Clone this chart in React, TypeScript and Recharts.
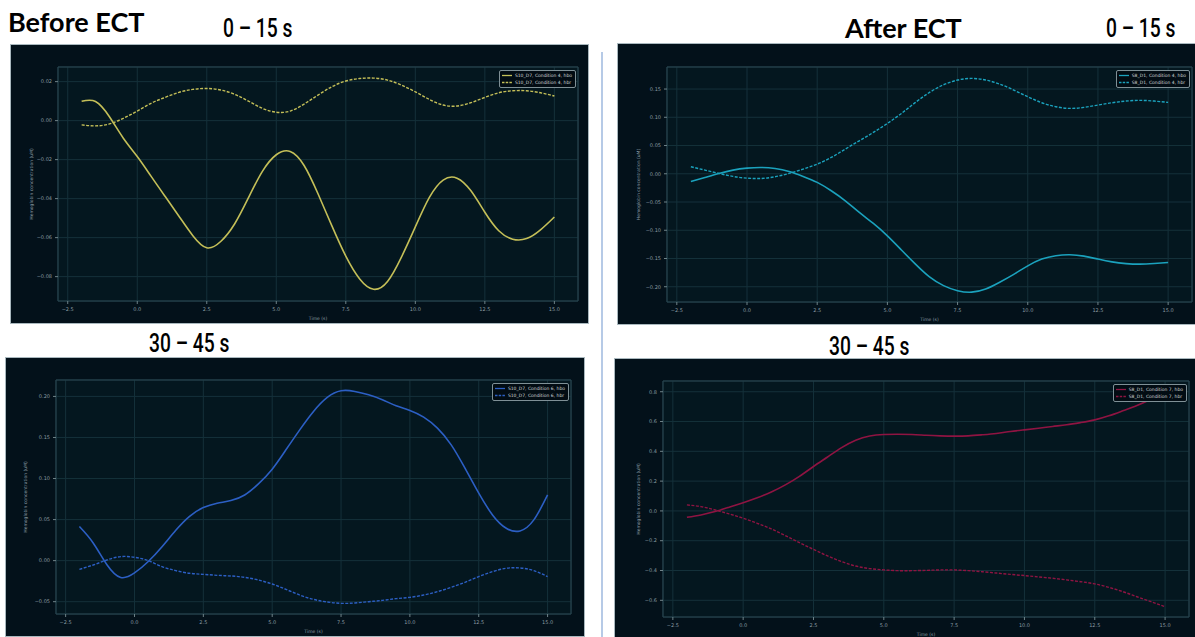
import React from "react";
import { LineChart, Line, XAxis, YAxis, CartesianGrid, ReferenceArea } from "recharts";

// time axis (s), sampled every 0.5 s
const times = [
  -2, -1.5, -1, -0.5, 0, 0.5, 1, 1.5, 2, 2.5, 3, 3.5, 4, 4.5, 5, 5.5, 6, 6.5,
  7, 7.5, 8, 8.5, 9, 9.5, 10, 10.5, 11, 11.5, 12, 12.5, 13, 13.5, 14, 14.5, 15,
];
const xTicks = [-2.5, 0, 2.5, 5, 7.5, 10, 12.5, 15];

// Before ECT, 0-15 s (S10_D7, condition 4)
const beforeEarlyHbo = [
  0.0099, 0.0098, 0.002, -0.009, -0.0184, -0.0286, -0.0388, -0.049, -0.059,
  -0.0652, -0.062, -0.053, -0.0395, -0.026, -0.0175, -0.0158, -0.023, -0.0375,
  -0.054, -0.0695, -0.0812, -0.0865, -0.0825, -0.07, -0.0545, -0.0395, -0.0305,
  -0.0295, -0.036, -0.047, -0.0565, -0.0608, -0.0605, -0.056, -0.0494,
];
const beforeEarlyHbr = [
  -0.0022, -0.0027, -0.0017, 0.0012, 0.0049, 0.0089, 0.0119, 0.0145, 0.016,
  0.0165, 0.0157, 0.0135, 0.01, 0.0063, 0.0043, 0.0049, 0.0085, 0.0131, 0.0174,
  0.0203, 0.0216, 0.0218, 0.0208, 0.0182, 0.0148, 0.0109, 0.008, 0.0075, 0.0092,
  0.0119, 0.0143, 0.0153, 0.0153, 0.0143, 0.0126,
];

// After ECT, 0-15 s (S8_D1, condition 4)
const afterEarlyHbo = [
  -0.0136, -0.0065, 0.0006, 0.0065, 0.01, 0.0112, 0.0094, 0.0041, -0.0047,
  -0.0153, -0.03, -0.0478, -0.0685, -0.088, -0.11, -0.135, -0.16, -0.1826,
  -0.198, -0.207, -0.2096, -0.204, -0.192, -0.178, -0.163, -0.151, -0.145,
  -0.1434, -0.1458, -0.151, -0.156, -0.159, -0.16, -0.1588, -0.157,
];
const afterEarlyHbr = [
  0.0124, 0.0065, 0.0006, -0.0047, -0.0077, -0.0083, -0.0053, 0.0006, 0.0083,
  0.0171, 0.0289, 0.0437, 0.0584, 0.0732, 0.0891, 0.1068, 0.1263, 0.144,
  0.1576, 0.1659, 0.1688, 0.1659, 0.1588, 0.1482, 0.1364, 0.1257, 0.1187,
  0.1157, 0.1175, 0.1216, 0.1257, 0.1287, 0.1299, 0.1287, 0.1263,
];

// Before ECT, 30-45 s (S10_D7, condition 6)
const beforeLateHbo = [
  0.0415, 0.0215, -0.005, -0.0205, -0.015, -0.001, 0.017, 0.037, 0.054, 0.0646,
  0.0699, 0.0732, 0.08, 0.0935, 0.1114, 0.135, 0.1593, 0.1817, 0.1988, 0.2069,
  0.2061, 0.202, 0.196, 0.1886, 0.183, 0.1748, 0.1614, 0.141, 0.1126, 0.0821,
  0.0557, 0.0394, 0.0362, 0.0496, 0.08,
];
const beforeLateHbr = [
  -0.0106, -0.0053, 0.0008, 0.0049, 0.0041, 0.0, -0.0073, -0.0122, -0.0154,
  -0.0167, -0.0179, -0.0187, -0.0203, -0.0236, -0.0285, -0.035, -0.0419,
  -0.0472, -0.0504, -0.052, -0.0516, -0.05, -0.0484, -0.0463, -0.0447, -0.0419,
  -0.0378, -0.0325, -0.0264, -0.0195, -0.0134, -0.0093, -0.0089, -0.0122,
  -0.0195,
];

// After ECT, 30-45 s (S8_D1, condition 7)
const afterLateHbo = [
  -0.0426, -0.027, -0.0045, 0.0246, 0.055, 0.088, 0.127, 0.175, 0.232, 0.298,
  0.362, 0.425, 0.475, 0.503, 0.513, 0.515, 0.513, 0.508, 0.504, 0.502, 0.504,
  0.511, 0.52, 0.533, 0.544, 0.555, 0.567, 0.578, 0.593, 0.611, 0.638, 0.672,
  0.708, 0.75, 0.795,
];
const afterLateHbr = [
  0.0403, 0.029, 0.0067, -0.02, -0.049, -0.083, -0.121, -0.166, -0.213, -0.258,
  -0.302, -0.34, -0.37, -0.387, -0.396, -0.401, -0.401, -0.399, -0.396, -0.396,
  -0.401, -0.408, -0.417, -0.426, -0.434, -0.443, -0.452, -0.463, -0.475, -0.49,
  -0.513, -0.542, -0.576, -0.609, -0.643,
];

const yTicksBeforeEarly = [-0.08, -0.06, -0.04, -0.02, 0, 0.02];
const yTicksAfterEarly = [-0.2, -0.15, -0.1, -0.05, 0, 0.05, 0.1, 0.15];
const yTicksBeforeLate = [-0.05, 0, 0.05, 0.1, 0.15, 0.2];
const yTicksAfterLate = [-0.6, -0.4, -0.2, 0, 0.2, 0.4, 0.6, 0.8];

const X_DOMAIN: [number, number] = [-2.85, 15.85];
const TICK_COLOR = "#8a9ba2";
const GRID_COLOR = "#1b3942";
const MONO = "'DejaVu Sans', sans-serif";

const minus = (s: string) => s.replace("-", "\u2212");
const fmt = (digits: number) => (v: number) => minus(v.toFixed(digits));

function rows(hbo: number[], hbr: number[]) {
  return times.map((t, i) => ({ t, hbo: hbo[i], hbr: hbr[i] }));
}

const YLabel = (props: any) => {
  const { viewBox, dx } = props;
  const cx = viewBox.x + dx;
  const cy = viewBox.y + viewBox.height / 2;
  return (
    <text
      x={cx}
      y={cy}
      transform={`rotate(-90 ${cx} ${cy})`}
      textAnchor="middle"
      dominantBaseline="central"
      fontSize={4.5}
      fontFamily={MONO}
      fill={TICK_COLOR}
    >
      Hemoglobin concentration (uM)
    </text>
  );
};

function MiniLegend({ names, color, top, right }: any) {
  return (
    <div
      style={{
        position: "absolute",
        top,
        right,
        border: "1px solid #7f9096",
        borderRadius: 2,
        background: "#020c13",
        padding: "1px 3px 1px 2px",
        fontFamily: MONO,
        fontSize: 4.5,
        lineHeight: "7px",
        color: "#d5dadc",
        whiteSpace: "nowrap",
      }}
    >
      {names.map((n: string, i: number) => (
        <div key={n} style={{ display: "flex", alignItems: "center" }}>
          <svg width={10} height={5} style={{ display: "block" }}>
            <line
              x1={0}
              x2={10}
              y1={2.5}
              y2={2.5}
              stroke={color}
              strokeWidth={1.3}
              strokeDasharray={i === 1 ? "2.5 1.2" : undefined}
            />
          </svg>
          <span style={{ marginLeft: 3 }}>{n}</span>
        </div>
      ))}
    </div>
  );
}

type PanelProps = {
  box: { left: number; top: number; width: number; height: number };
  frame: { top: number; right: number; left: number; bottom: number };
  yDomain: [number, number];
  yTicks: number[];
  yDigits: number;
  color: string;
  hbo: number[];
  hbr: number[];
  names: string[];
  labelDx: number;
};

function Panel({ box, frame, yDomain, yTicks, yDigits, color, hbo, hbr, names, labelDx }: PanelProps) {
  const data = rows(hbo, hbr);
  return (
    <div
      style={{
        position: "absolute",
        left: box.left,
        top: box.top,
        width: box.width,
        height: box.height,
        background: "#03111a",
        outline: "1px solid #a9b8be",
      }}
    >
      <LineChart
        width={box.width}
        height={box.height}
        data={data}
        margin={{ top: frame.top, right: frame.right, bottom: 0, left: 0 }}
      >
        <CartesianGrid stroke={GRID_COLOR} strokeWidth={1} />
        <ReferenceArea
          x1={X_DOMAIN[0]}
          x2={X_DOMAIN[1]}
          y1={yDomain[0]}
          y2={yDomain[1]}
          fill="#0a222c"
          fillOpacity={0.35}
          stroke="#28454f"
          strokeOpacity={1}
          strokeWidth={1}
        />
        <XAxis
          dataKey="t"
          type="number"
          domain={X_DOMAIN}
          ticks={xTicks}
          allowDataOverflow
          height={frame.bottom}
          tickFormatter={fmt(1)}
          tick={{ fontSize: 5, fill: TICK_COLOR, fontFamily: MONO }}
          tickLine={{ stroke: "#6f8389" }}
          tickSize={3}
          tickMargin={3}
          axisLine={false}
          label={{
            value: "Time (s)",
            position: "insideBottom",
            offset: 3,
            fontSize: 4.5,
            fill: TICK_COLOR,
            fontFamily: MONO,
          }}
        />
        <YAxis
          type="number"
          domain={yDomain}
          ticks={yTicks}
          allowDataOverflow
          width={frame.left}
          tickFormatter={fmt(yDigits)}
          tick={{ fontSize: 5, fill: TICK_COLOR, fontFamily: MONO }}
          tickLine={{ stroke: "#6f8389" }}
          tickSize={3}
          tickMargin={3}
          axisLine={false}
          label={<YLabel dx={labelDx} />}
        />
        <Line
          type="natural"
          dataKey="hbo"
          stroke={color}
          strokeWidth={1.6}
          dot={false}
          isAnimationActive={false}
        />
        <Line
          type="natural"
          dataKey="hbr"
          stroke={color}
          strokeWidth={1.4}
          strokeDasharray="3 1.5"
          dot={false}
          isAnimationActive={false}
        />
      </LineChart>
      <MiniLegend
        names={names}
        color={color}
        top={frame.top + 3}
        right={frame.right + 2}
      />
    </div>
  );
}

const heading: React.CSSProperties = {
  position: "absolute",
  fontFamily: "Lato, 'Open Sans', sans-serif",
  fontWeight: 700,
  fontSize: 27,
  lineHeight: "27px",
  color: "#000",
  whiteSpace: "nowrap",
};

const window_: React.CSSProperties = {
  position: "absolute",
  fontFamily: "Roboto, sans-serif",
  fontWeight: 500,
  fontSize: 26,
  lineHeight: "26px",
  color: "#000",
  whiteSpace: "nowrap",
  transformOrigin: "left top",
  transform: "scaleX(0.74)",
};

export default function App() {
  return (
    <div
      style={{
        position: "absolute",
        left: 0,
        top: 0,
        width: 1195,
        height: 637,
        background: "#ffffff",
        overflow: "hidden",
      }}
    >
      <div style={{ ...heading, left: 8, top: 8 }}>Before ECT</div>
      <div style={{ ...window_, left: 223, top: 15 }}>0 – 15 s</div>
      <div style={{ ...heading, left: 845, top: 14 }}>After ECT</div>
      <div style={{ ...window_, left: 1106, top: 15 }}>0 – 15 s</div>
      <div style={{ ...window_, left: 149, top: 330 }}>30 – 45 s</div>
      <div style={{ ...window_, left: 829, top: 333 }}>30 – 45 s</div>

      <div
        style={{
          position: "absolute",
          left: 601,
          top: 52,
          width: 2,
          height: 585,
          background: "#b6cae6",
        }}
      />

      <Panel
        box={{ left: 11, top: 45, width: 577, height: 278 }}
        frame={{ top: 22, right: 10, left: 47, bottom: 22 }}
        yDomain={[-0.0925, 0.0275]}
        yTicks={yTicksBeforeEarly}
        yDigits={2}
        color="#c4bf58"
        hbo={beforeEarlyHbo}
        hbr={beforeEarlyHbr}
        names={["S10_D7, Condition 4, hbo", "S10_D7, Condition 4, hbr"]}
        labelDx={20}
      />
      <Panel
        box={{ left: 618, top: 44, width: 578, height: 280 }}
        frame={{ top: 23, right: 4, left: 49, bottom: 22 }}
        yDomain={[-0.227, 0.189]}
        yTicks={yTicksAfterEarly}
        yDigits={2}
        color="#1ba2bd"
        hbo={afterEarlyHbo}
        hbr={afterEarlyHbr}
        names={["S8_D1, Condition 4, hbo", "S8_D1, Condition 4, hbr"]}
        labelDx={20}
      />
      <Panel
        box={{ left: 6, top: 358, width: 578, height: 278 }}
        frame={{ top: 22, right: 13, left: 50, bottom: 22 }}
        yDomain={[-0.065, 0.22]}
        yTicks={yTicksBeforeLate}
        yDigits={2}
        color="#2c5fc4"
        hbo={beforeLateHbo}
        hbr={beforeLateHbr}
        names={["S10_D7, Condition 6, hbo", "S10_D7, Condition 6, hbr"]}
        labelDx={19}
      />
      <Panel
        box={{ left: 615, top: 359, width: 580, height: 280 }}
        frame={{ top: 22, right: 6, left: 48, bottom: 22 }}
        yDomain={[-0.712, 0.872]}
        yTicks={yTicksAfterLate}
        yDigits={1}
        color="#8f1442"
        hbo={afterLateHbo}
        hbr={afterLateHbr}
        names={["S8_D1, Condition 7, hbo", "S8_D1, Condition 7, hbr"]}
        labelDx={23}
      />
    </div>
  );
}
